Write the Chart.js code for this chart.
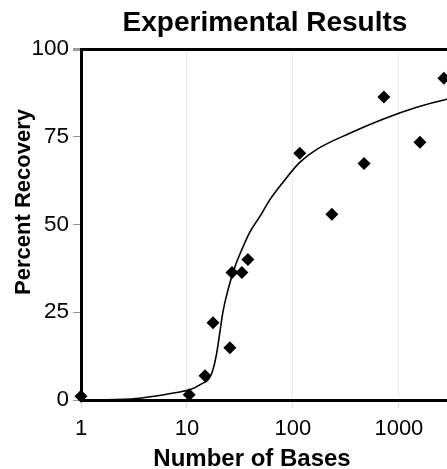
<!DOCTYPE html>
<html>
<head>
<meta charset="utf-8">
<script src="https://cdn.jsdelivr.net/npm/chart.js@4"></script>
<style>
  html, body { margin: 0; padding: 0; background: #fff; overflow: hidden; }
  #wrap { width: 530px; height: 469px; }
</style>
</head>
<body>
<div id="wrap"><canvas id="chart"></canvas></div>
<script>
// measured points (Number of Bases vs Percent Recovery)
const basesX = [1, 10.5, 14.8, 17.6, 25.4, 26.6, 33, 37.6, 116, 233, 469, 722, 1580, 2660];
const recoveryY = [1.1, 1.5, 6.9, 22, 14.9, 36.3, 36.3, 40, 70.3, 52.9, 67.4, 86.3, 73.4, 91.7];

// fitted curve
const curveX = [1, 3, 8.6, 10.6, 13.2, 17.2, 19.1, 20.4, 21.8, 24.4, 28.4, 33, 39, 48.8, 60.7, 80.4, 116, 168, 344, 705, 1475, 2840, 4000];
const curveY = [0, 0.3, 2.3, 2.9, 4.3, 7.7, 13.4, 19.1, 24.9, 31.4, 38, 42.9, 47.7, 52.3, 57.1, 62, 67.7, 71.4, 76, 80, 83.4, 85.7, 86.5];

const xTicks = [1, 10, 100, 1000];
const yTicks = [0, 25, 50, 75, 100];

const chartTitle = "Experimental Results";
const xTitle = "Number of Bases";
const yTitle = "Percent Recovery";

const fontFam = "'Liberation Sans', Arial, sans-serif";

const puntos = basesX.map((x, i) => ({ x: x, y: recoveryY[i] }));
const curva = curveX.map((x, i) => ({ x: x, y: curveY[i] }));

// titulos de ejes (en el original no estan centrados en el area del grafico)
const axisTitles = {
    id: "axisTitles",
    afterDraw(chart) {
        const ctx = chart.ctx;
        ctx.save();
        ctx.fillStyle = "#000";
        ctx.textAlign = "center";
        ctx.textBaseline = "middle";
        ctx.font = "bold 24px " + fontFam;
        ctx.fillText(xTitle, 252, 459);
        ctx.translate(24, 202);
        ctx.rotate(-Math.PI / 2);
        ctx.font = "bold 22px " + fontFam;
        ctx.fillText(yTitle, 0, 0);
        ctx.restore();
    }
};

const config = {
    type: "scatter",
    data: {
        datasets: [
            {
                label: "Fit",
                type: "line",
                data: curva,
                borderColor: "#000",
                borderWidth: 1.6,
                pointRadius: 0,
                cubicInterpolationMode: "monotone",
                fill: false,
                order: 2
            },
            {
                label: "Data",
                data: puntos,
                pointStyle: "rectRot",
                pointRadius: 6.5,
                backgroundColor: "#000",
                borderColor: "#000",
                borderWidth: 0,
                clip: false,
                order: 1
            }
        ]
    },
    options: {
        responsive: true,
        maintainAspectRatio: false,
        animation: false,
        layout: { padding: 0 },
        plugins: {
            legend: { display: false },
            tooltip: { enabled: false },
            title: {
                display: true,
                text: chartTitle,
                color: "#000",
                font: { family: fontFam, size: 28, weight: "bold" },
                padding: { top: 6, bottom: 9.4 }
            }
        },
        scales: {
            x: {
                type: "logarithmic",
                min: 1,
                max: 15000,
                afterBuildTicks: (scale) => {
                    scale.ticks = xTicks.map(v => ({ value: v }));
                },
                afterFit: (scale) => { scale.height = 69; },
                ticks: {
                    color: "#000",
                    font: { family: fontFam, size: 22 },
                    padding: 8,
                    maxRotation: 0,
                    callback: (v) => String(v)
                },
                grid: {
                    color: "rgba(0,0,0,0.07)",
                    tickColor: "rgba(0,0,0,0.15)",
                    tickLength: 8
                },
                border: { color: "#000", width: 3 }
            },
            y: {
                min: 0,
                max: 100,
                afterBuildTicks: (scale) => {
                    scale.ticks = yTicks.map(v => ({ value: v }));
                },
                afterFit: (scale) => { scale.width = 81; },
                ticks: {
                    color: "#000",
                    font: { family: fontFam, size: 22.5 },
                    padding: 4
                },
                grid: {
                    color: (ctx) => (ctx.tick && ctx.tick.value === 100 ? "#000" : "rgba(0,0,0,0)"),
                    lineWidth: (ctx) => (ctx.tick && ctx.tick.value === 100 ? 3 : 1),
                    tickColor: "#999",
                    tickLength: 8
                },
                border: { color: "#000", width: 3 }
            }
        }
    },
    plugins: [axisTitles]
};

new Chart(document.getElementById("chart"), config);
</script>
</body>
</html>
